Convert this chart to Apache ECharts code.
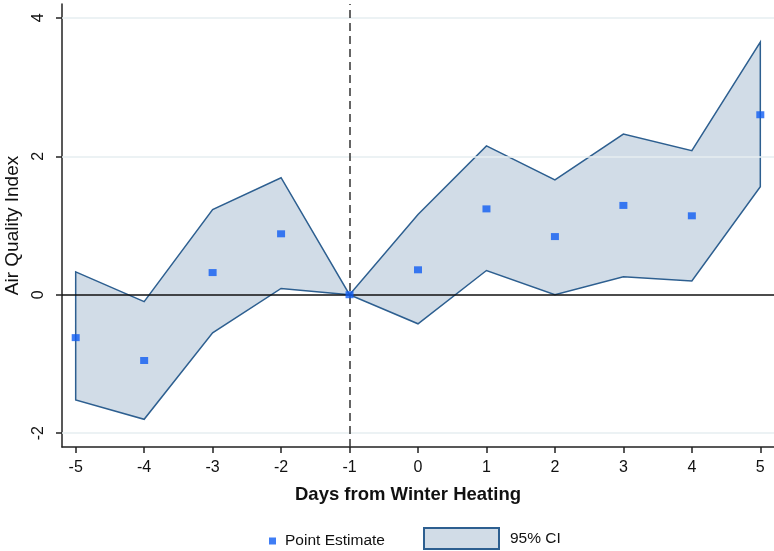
<!DOCTYPE html>
<html><head><meta charset="utf-8">
<script src="https://cdn.jsdelivr.net/npm/echarts@6/dist/echarts.min.js"></script>
<style>html,body{margin:0;padding:0;background:#fff}#c{width:774px;height:551px}</style>
</head><body><div id="c"></div>
<script>
var days = [-5, -4, -3, -2, -1, 0, 1, 2, 3, 4, 5];
var pointEstimate = [-0.62, -0.95, 0.32, 0.88, 0.0, 0.36, 1.24, 0.84, 1.29, 1.14, 2.6];
var ciUpper = [0.33, -0.1, 1.23, 1.69, 0.0, 1.16, 2.15, 1.66, 2.32, 2.08, 3.65];
var ciLower = [-1.52, -1.8, -0.55, 0.09, 0.0, -0.42, 0.35, 0.0, 0.26, 0.2, 1.56];
var xTicks = [-5, -4, -3, -2, -1, 0, 1, 2, 3, 4, 5];
var yTicks = [-2, 0, 2, 4];
var gridLinesY = [-2, 2, 4];
var eventDay = -1;

var chart = echarts.init(document.getElementById('c'));
var font = 'Liberation Sans, Arial, Helvetica, sans-serif';

var bandData = days.map(function (d, i) { return [d, ciLower[i], ciUpper[i]]; });

chart.setOption({
  animation: false,
  grid: { left: 62, right: 0, top: 4, bottom: 104, outerBoundsMode: 'none', containLabel: false },
  xAxis: {
    type: 'value', min: -5.2, max: 5.2,
    name: 'Days from Winter Heating', nameLocation: 'middle', nameGap: 38,
    nameTextStyle: { fontFamily: font, fontSize: 18.5, fontWeight: 'bold', color: '#111', padding: [0, 20, 0, 0] },
    axisLine: { show: true, onZero: false, lineStyle: { color: '#222', width: 1.5 } },
    axisTick: { show: true, length: 6, customValues: xTicks, lineStyle: { color: '#222', width: 1.5 } },
    axisLabel: { customValues: xTicks, margin: 13, fontFamily: font, fontSize: 16, color: '#111' },
    splitLine: { show: false }
  },
  yAxis: {
    type: 'value', min: -2.2, max: 4.2,
    name: 'Air Quality Index', nameLocation: 'middle', nameGap: 40, nameRotate: 90,
    nameTextStyle: { fontFamily: font, fontSize: 19, color: '#111' },
    axisLine: { show: true, onZero: false, lineStyle: { color: '#222', width: 1.5 } },
    axisTick: { show: true, length: 6, customValues: yTicks, lineStyle: { color: '#222', width: 1.5 } },
    axisLabel: { customValues: yTicks, rotate: 90, margin: 15, fontFamily: font, fontSize: 16, color: '#111' },
    splitLine: { show: false }
  },
  legend: [
    { data: [{ name: 'Point Estimate', icon: 'rect' }], left: 269, top: 533, itemWidth: 7, itemHeight: 7, padding: 0,
      textStyle: { fontFamily: font, fontSize: 15.5, color: '#111', padding: [0, 0, 0, 4] } },
    { data: [{ name: '95% CI', icon: 'rect' }], left: 423, top: 527, itemWidth: 75, itemHeight: 21, padding: 0,
      textStyle: { fontFamily: font, fontSize: 15.5, color: '#111', padding: [0, 0, 0, 6] } }
  ],
  series: [
    {
      type: 'line', name: 'guides', data: [], silent: true,
      markLine: {
        silent: true, symbol: 'none', label: { show: false }, animation: false,
        data: gridLinesY.map(function (v) { return { yAxis: v, lineStyle: { color: '#e6eef1', width: 1.5, type: 'solid' } }; })
      }
    },
    {
      type: 'custom', name: '95% CI',
      itemStyle: { color: '#d1dce7', borderColor: '#2d5f90', borderWidth: 2 },
      data: bandData,
      encode: { x: 0, y: [1, 2] },
      renderItem: function (params, api) {
        if (params.dataIndex !== 0) return null;
        var pts = [];
        for (var i = 0; i < bandData.length; i++) pts.push(api.coord([bandData[i][0], bandData[i][2]]));
        for (var j = bandData.length - 1; j >= 0; j--) pts.push(api.coord([bandData[j][0], bandData[j][1]]));
        return {
          type: 'polygon', shape: { points: pts },
          style: { fill: '#d1dce7', stroke: '#2d5f90', lineWidth: 1.5 }
        };
      },
      z: 2
    },
    {
      type: 'line', name: 'refs', data: [], silent: true, z: 3,
      markLine: {
        silent: true, symbol: 'none', label: { show: false }, animation: false,
        data: [
          { yAxis: 0, lineStyle: { color: '#111', width: 1.5, type: 'solid' } },
          { xAxis: eventDay, lineStyle: { color: '#333', width: 1.5, type: [8, 5] } }
        ]
      }
    },
    {
      type: 'scatter', name: 'Point Estimate', symbol: 'rect', symbolSize: [8, 7],
      itemStyle: { color: '#0f5cf2' },
      data: days.map(function (d, i) { return [d, pointEstimate[i]]; }),
      z: 5
    }
  ]
});
</script></body></html>
